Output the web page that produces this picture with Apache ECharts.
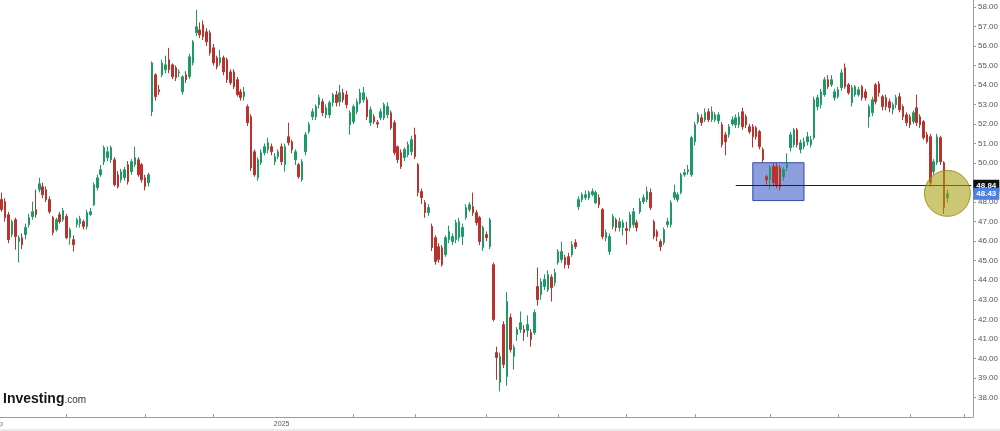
<!DOCTYPE html>
<html>
<head>
<meta charset="utf-8">
<script src="https://cdn.jsdelivr.net/npm/echarts@6/dist/echarts.min.js"></script>
<style>
  html, body { margin: 0; padding: 0; background: #fff; }
  #chart { width: 1000px; height: 431px; }
</style>
</head>
<body>
<div id="chart"></div>
<script>
// daily candles: [open, close, low, high]
const candles = [
  [48.13,47.62,47.51,48.49],[48.03,47.21,47.00,48.20],[47.36,46.08,45.90,47.50],[46.34,47.00,46.20,47.10],
  [47.10,46.24,45.57,47.20],[45.98,46.18,44.91,46.30],[46.18,45.82,45.60,46.40],[46.34,46.70,46.10,46.90],
  [46.85,47.21,46.70,47.40],[47.26,47.51,47.10,48.03],[47.62,47.36,47.20,48.64],[48.64,48.94,48.50,49.25],
  [48.79,48.38,48.20,49.00],[48.64,48.13,48.00,48.80],[48.13,47.51,47.40,48.30],[47.21,46.44,46.30,47.30],
  [46.59,47.10,46.50,47.20],[47.36,47.00,46.90,47.50],[47.10,47.56,47.00,47.70],[47.26,46.18,46.10,47.40],
  [46.18,46.59,45.82,46.70],[46.08,45.82,45.47,46.30],[46.85,47.10,46.70,47.20],[46.90,47.15,46.70,47.30],
  [47.00,46.75,46.60,47.10],[46.75,47.46,46.60,47.60],[47.36,47.51,47.30,47.70],[47.87,48.89,47.80,49.00],
  [48.74,49.25,48.60,49.40],[49.40,49.66,49.30,49.90],[50.07,50.79,49.90,50.90],[50.28,50.58,50.10,50.85],
  [50.17,50.79,50.00,50.90],[50.17,48.89,48.80,50.30],[49.40,48.79,48.70,49.60],[49.15,49.56,49.00,49.70],
  [49.25,49.66,49.10,49.80],[49.92,49.05,48.90,50.10],[49.56,50.07,49.40,50.20],[49.92,50.28,49.80,50.84],
  [50.17,49.40,49.30,50.30],[49.92,49.15,49.00,50.00],[49.25,48.79,48.60,49.40],[48.99,49.40,48.80,49.50],
  [52.63,55.13,52.40,55.20],[54.52,53.40,53.20,54.60],[53.75,53.65,53.50,54.00],[54.52,55.13,54.40,55.30],
  [54.78,55.03,54.60,55.50],[55.29,54.78,54.60,55.90],[55.03,54.42,54.30,55.10],[54.88,54.37,54.20,55.00],
  [54.62,54.67,54.40,54.80],[53.65,54.42,53.50,54.50],[54.52,54.27,54.10,54.70],[54.42,55.44,54.30,55.60],
  [55.13,56.21,55.00,56.30],[56.67,56.98,56.50,57.85],[56.82,56.57,56.40,57.20],[57.08,56.47,56.30,57.30],
  [56.72,56.21,56.00,56.90],[56.67,55.65,55.50,56.80],[55.90,55.13,55.00,56.10],[55.39,54.93,54.80,55.50],
  [55.13,55.39,55.00,55.80],[55.39,54.67,54.50,55.50],[55.29,54.27,54.10,55.40],[54.67,54.11,54.00,54.80],
  [54.67,53.91,53.80,54.80],[54.27,53.50,53.40,54.40],[53.65,53.35,53.20,53.80],
  [53.40,53.65,53.20,53.90],[52.89,52.07,51.90,53.00],[52.37,49.76,49.60,52.50],[50.58,49.40,49.30,50.70],
  [49.25,50.17,49.10,50.30],[50.02,50.53,49.90,50.70],[50.53,50.84,50.40,51.00],[50.69,51.04,50.50,51.30],
  [50.84,50.58,50.40,51.00],[50.07,50.33,49.90,50.50],[50.33,50.58,50.20,50.70],[50.84,50.07,49.90,51.00],
  [49.92,50.84,49.56,51.00],[51.35,51.04,50.90,52.07],[51.09,50.69,50.50,51.20],[50.17,50.58,49.90,50.70],
  [49.92,49.30,49.20,50.00],[49.15,50.07,49.05,50.20],[50.58,51.45,50.40,51.60],[51.61,51.96,51.50,52.10],
  [52.37,52.63,52.20,52.80],[52.37,52.89,52.20,53.00],[52.99,53.35,52.80,53.50],[53.14,52.58,52.40,53.30],
  [52.47,52.83,52.30,53.00],[52.47,53.09,52.30,53.20],[53.09,53.50,52.90,53.60],[53.50,53.09,52.90,53.70],
  [53.14,53.60,52.90,54.01],[53.60,53.24,53.10,53.80],[53.50,52.99,52.80,53.70],[51.96,52.58,51.45,52.70],
  [52.12,52.89,52.00,53.00],[52.63,53.14,52.50,53.30],[53.09,53.60,53.00,53.80],[53.24,53.60,53.10,53.90],
  [53.24,52.37,52.20,53.40],[52.07,52.73,51.90,52.90],
  [52.37,52.12,52.00,52.50],[52.07,52.00,51.80,52.20],[52.32,52.63,52.20,52.80],[52.32,52.99,52.20,53.10],
  [52.47,52.89,52.30,53.10],[52.58,51.81,51.70,52.70],[52.07,50.53,50.40,52.20],[50.84,50.17,50.00,50.90],
  [50.53,49.82,49.70,50.70],[50.28,50.69,50.10,50.80],[50.43,50.94,50.30,51.10],[50.58,51.20,50.40,51.40],
  [51.45,50.33,50.20,51.81],[49.92,48.49,48.30,50.00],[48.54,48.23,47.90,48.70],[47.97,47.46,47.20,48.10],
  [47.46,47.72,47.30,47.90],[46.75,45.67,45.50,46.90],[46.18,44.96,44.80,46.30],[45.72,45.06,44.90,45.90],
  [45.67,44.80,44.70,45.80],[45.31,46.18,45.20,46.30],[46.08,46.49,45.90,46.80],[45.98,46.24,45.80,46.40],
  [46.08,46.95,45.90,47.10],[46.18,47.00,46.00,47.20],[46.24,46.70,45.80,46.90],[47.21,47.72,47.10,47.90],
  [47.62,47.87,47.50,48.00],[47.77,47.46,47.30,48.49],[47.46,46.95,46.80,47.60],[47.21,45.98,45.80,47.30],
  [45.67,46.70,45.50,46.80],[46.34,46.18,46.00,46.50],[45.72,47.10,45.60,47.20],[44.80,41.99,41.90,44.90],
  [40.30,40.05,38.90,40.60],[38.77,40.10,38.31,40.30],[41.73,39.69,39.50,41.90],[39.07,42.91,38.60,43.40],
  [42.09,40.45,40.30,42.30],[40.10,40.56,39.43,40.70],[41.22,41.48,40.90,41.60],[41.48,41.83,41.30,42.40],
  [41.48,41.32,40.90,41.70],[41.43,41.73,41.10,42.20],[41.32,40.97,40.60,41.50],[41.32,42.35,41.20,42.50],
  [43.68,43.01,42.70,44.65],[43.27,43.93,43.00,44.10],[43.68,44.04,43.50,44.30],[43.52,44.29,43.40,44.50],
  [44.16,43.62,42.91,44.30],[43.88,44.39,43.70,44.60],[44.91,45.47,44.80,45.60],[45.06,45.47,44.90,45.98],
  [45.16,44.80,44.60,45.30],[45.21,44.80,44.60,45.40],[45.31,45.82,45.20,46.00],[45.93,45.72,45.60,46.10],
  [47.77,48.13,47.60,48.30],[48.13,48.38,48.00,48.50],[48.23,48.38,48.10,48.60],[48.23,48.49,48.10,48.60],
  [48.38,48.54,48.30,48.70],[47.97,48.49,47.90,48.60],[48.23,47.87,47.70,48.40],[47.62,46.24,46.10,47.70],
  [46.18,46.44,46.00,46.60],[45.47,46.24,45.30,46.40],
  [46.75,47.26,46.60,47.40],[47.10,46.70,46.50,47.20],[46.70,47.00,46.50,47.20],[46.70,46.95,46.30,47.10],
  [46.65,46.55,45.82,47.00],[46.70,47.36,46.50,47.50],[46.85,47.51,46.70,47.70],[46.95,46.70,46.50,47.10],
  [47.51,48.03,47.40,48.20],[48.03,48.23,47.90,48.40],[48.13,48.54,48.00,48.80],[48.49,47.72,47.60,48.70],
  [47.00,46.24,46.10,47.10],[46.49,46.24,46.00,46.60],[45.98,45.72,45.50,46.10],[45.93,46.59,45.80,46.70],
  [46.85,47.00,46.70,47.20],[46.85,47.97,46.70,48.10],[48.23,48.49,48.10,48.89],[48.13,48.38,48.00,48.50],
  [48.49,49.40,48.40,49.50],[49.40,49.51,49.30,49.70],[49.56,49.66,49.40,49.90],[49.40,51.30,49.30,51.40],
  [51.09,51.96,50.90,52.10],[52.12,52.47,52.00,52.60],[52.32,52.07,51.90,52.50],[52.22,52.58,52.10,52.80],
  [52.63,52.22,52.10,52.80],[52.22,52.63,52.10,52.90],[52.22,52.47,52.10,52.60],[52.17,52.47,52.00,52.60],
  [51.96,50.94,50.80,52.10],[51.45,51.09,50.40,51.60],[51.45,51.86,51.30,52.00],
  [52.00,52.22,51.90,52.40],[51.96,52.32,51.80,52.50],[51.96,52.37,51.80,52.60],[52.63,51.86,51.70,52.83],
  [52.37,51.96,51.80,52.50],[51.86,51.61,51.50,52.00],[51.86,51.35,50.80,52.00],[51.81,51.35,51.20,51.90],
  [51.61,50.84,50.70,51.70],[50.69,50.17,50.00,50.80],[49.30,49.15,48.90,49.40],[49.15,49.76,48.64,49.90],
  [49.82,48.99,48.80,50.00],[49.82,48.89,48.70,50.00],[49.76,48.79,48.60,49.90],[49.30,49.66,49.10,49.80],
  [49.76,50.02,49.60,50.50],[50.79,51.45,50.60,51.60],[50.94,51.71,50.80,51.80],[51.71,50.94,50.80,51.80],
  [50.69,51.04,50.50,51.20],[50.84,51.09,50.70,51.30],[51.09,51.35,50.90,51.60],[50.94,51.20,50.80,51.40],
  [51.30,53.24,51.20,53.40],[52.89,53.35,52.70,53.50],[52.99,53.65,52.80,53.80],[53.50,54.27,53.40,54.40],
  [54.27,53.91,53.80,54.50],[54.01,54.27,53.90,54.50],[53.35,53.65,53.20,53.80],[53.40,53.75,53.30,53.90],
  [53.86,54.62,53.70,54.80],[54.88,53.91,53.80,55.10],[54.01,53.60,53.50,54.10],
  [53.09,53.86,52.90,54.00],[53.50,53.91,53.40,54.00],[53.50,53.75,53.40,53.90],[53.91,53.35,53.20,54.00],
  [53.65,53.35,53.20,53.80],[52.37,52.89,51.81,53.00],[52.58,53.24,52.40,53.40],[54.01,53.14,53.00,54.10],
  [54.06,53.60,53.40,54.20],[53.40,52.89,52.70,53.50],[53.35,52.89,52.70,53.50],[53.14,52.83,52.60,53.30],
  [52.73,52.99,52.50,53.10],[52.99,53.35,52.80,53.50],[53.40,52.73,52.60,53.60],[52.89,52.37,52.20,53.00],
  [52.47,52.07,51.90,52.60],[52.37,51.96,51.80,52.50],[52.12,52.58,52.00,52.70],[52.83,52.07,51.90,53.50],
  [52.37,51.96,51.80,52.50],[52.12,51.30,51.20,52.20],[51.45,51.09,51.00,51.60],[51.35,48.99,48.80,51.50],
  [49.56,50.07,49.40,50.20],[50.02,51.35,49.90,51.50],[51.30,50.07,49.90,51.40],[50.02,47.72,47.40,50.10],
  [48.23,48.43,47.97,48.64]
]

// number of day slots on the x axis (a few empty ones after the last candle)
const totalSlots = 285
// slots with a month tick mark
const monthTicks = [19, 42, 62, 103, 121, 142, 163, 183, 203, 225, 245, 266, 282]
// x axis labels by slot
const xLabels = { 0: 'Sep', 82: '2025' }

// annotations
const refLevel = 48.84
const lastClose = 48.43
const boxSlots = [220, 235]
const boxPrices = [48.08, 50.02]
const circleAt = [277, 48.45]

const categories = []
for (let i = 0; i < totalSlots; i++) {
  const text = xLabels[i] || ''
  // first label sits half off the left edge, as in the source chart
  categories.push(i === 0 ? { value: text, textStyle: { padding: [0, 10, 0, 0] } } : text)
}

const upColor = '#1d9a65'
const downColor = '#b8322e'
const axisColor = '#9c9c9c'
const fontFamily = 'Liberation Sans, Arial, sans-serif'

const chart = echarts.init(document.getElementById('chart'))
chart.setOption({
  animation: false,
  backgroundColor: '#fff',
  // keep the plot fixed, labels may run past the edges
  grid: { left: 0, right: 27, top: 0, bottom: 14, containLabel: false, outerBoundsMode: 'none' },
  xAxis: {
    type: 'category',
    data: categories,
    boundaryGap: true,
    axisLine: { lineStyle: { color: axisColor } },
    axisTick: {
      show: true,
      inside: true,
      length: 3,
      alignWithLabel: true,
      interval: (i) => monthTicks.includes(i),
      lineStyle: { color: axisColor }
    },
    axisLabel: {
      interval: (i, v) => v !== '',
      hideOverlap: false,
      fontSize: 7,
      color: '#555',
      margin: 4,
      fontFamily: fontFamily
    },
    splitLine: { show: false }
  },
  yAxis: {
    type: 'value',
    position: 'right',
    min: 37,
    max: 58.35,
    interval: 1,
    axisLine: { show: true, lineStyle: { color: axisColor } },
    axisTick: { show: true, length: 3, lineStyle: { color: axisColor } },
    axisLabel: {
      showMinLabel: false,
      showMaxLabel: false,
      fontSize: 8,
      color: '#555',
      margin: 5,
      fontFamily: fontFamily,
      formatter: (v) => v.toFixed(2)
    },
    splitLine: { show: false }
  },
  series: [
    {
      type: 'candlestick',
      data: candles,
      barWidth: 2,
      itemStyle: {
        color: upColor,
        color0: downColor,
        borderColor: upColor,
        borderColor0: downColor,
        borderWidth: 1
      },
      markArea: {
        silent: true,
        itemStyle: {
          color: 'rgba(58, 88, 200, 0.58)',
          borderColor: 'rgba(40, 60, 160, 0.9)',
          borderWidth: 1
        },
        data: [[
          { coord: [boxSlots[0], boxPrices[1]] },
          { coord: [boxSlots[1], boxPrices[0]] }
        ]]
      },
      markLine: {
        silent: true,
        symbol: 'none',
        data: [
          [
            {
              coord: [215, refLevel],
              lineStyle: { color: '#222', width: 1, type: 'solid' },
              label: {
                show: true,
                position: 'end',
                distance: 2,
                formatter: refLevel.toFixed(2),
                backgroundColor: '#111',
                color: '#fff',
                fontSize: 8,
                fontWeight: 'bold',
                fontFamily: fontFamily,
                padding: [2, 3]
              }
            },
            { coord: [totalSlots - 1, refLevel] }
          ],
          [
            {
              coord: [candles.length - 1, lastClose],
              lineStyle: { color: 'transparent', width: 0 },
              label: {
                show: true,
                position: 'end',
                distance: 2,
                formatter: lastClose.toFixed(2),
                backgroundColor: '#4b80e4',
                color: '#fff',
                fontSize: 8,
                fontWeight: 'bold',
                fontFamily: fontFamily,
                padding: [2, 3]
              }
            },
            { coord: [totalSlots - 1, lastClose] }
          ]
        ]
      },
      markPoint: {
        silent: true,
        symbol: 'circle',
        symbolSize: 46,
        label: { show: false },
        itemStyle: {
          color: 'rgba(165, 158, 12, 0.58)',
          borderColor: 'rgba(140, 135, 20, 0.8)',
          borderWidth: 1
        },
        data: [{ coord: circleAt }]
      }
    }
  ],
  graphic: [
    {
      type: 'text',
      left: 3,
      top: 392,
      style: {
        text: '{a|Investing}{b|.com}',
        rich: {
          a: { fontSize: 14, fontWeight: 'bold', fill: '#161616', fontFamily: fontFamily },
          b: { fontSize: 10, fill: '#333', fontFamily: fontFamily, padding: [3, 0, 0, 0] }
        }
      }
    },
    {
      type: 'line',
      shape: { x1: 0, y1: 430, x2: 1000, y2: 430 },
      style: { stroke: '#d6d6d6', lineWidth: 1 }
    }
  ]
})
</script>
</body>
</html>
